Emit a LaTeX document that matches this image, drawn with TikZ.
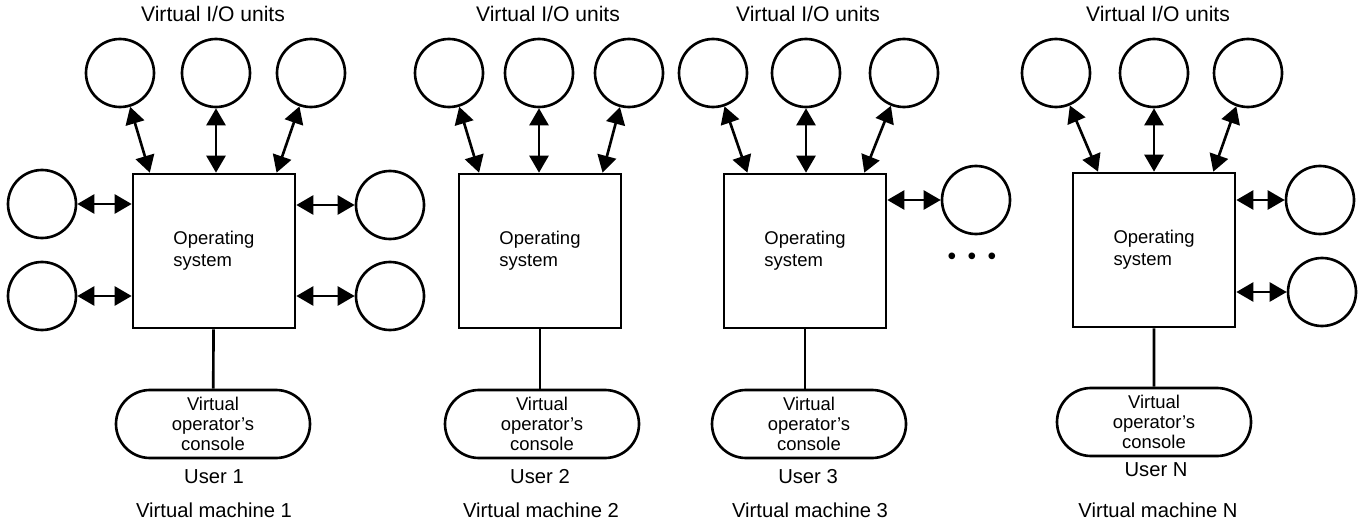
\documentclass[tikz,border=0pt]{standalone}
\usepackage{fontspec}
\setmainfont{Liberation Sans}
\usetikzlibrary{calc, positioning, shapes.misc, arrows.meta}

\begin{document}
\begin{tikzpicture}[line width=1.5pt, >={Triangle[length=0.34cm, width=0.38cm]},
    unit/.style={draw, circle, minimum size=1.36cm, inner sep=0pt},
    os/.style={draw, rectangle, minimum width=3.24cm, minimum height=3.08cm, align=left, font=\fontsize{10.5}{12.5}\selectfont},
    console/.style={draw, rounded rectangle, minimum width=3.88cm, minimum height=1.36cm, inner sep=0pt, align=center, font=\fontsize{10.5}{11.2}\selectfont},
    title/.style={font=\fontsize{12}{14}\selectfont},
    label/.style={font=\fontsize{11.5}{13}\selectfont}]
        \useasboundingbox (0,0) rectangle (27.2,-10.54);

        % Virtual machine 1
        \node[title] (m1title) at (4.26,-0.28) {Virtual I/O units};
        \node[unit] (m1a) at (2.40,-1.46) {};
        \node[unit] (m1b) at (4.32,-1.46) {};
        \node[unit] (m1c) at (6.22,-1.46) {};
        \node[os] (m1box) at (4.28,-5.02) {Operating\\system};
        \node[unit] (m1l1) at (0.84,-4.08) {};
        \node[unit] (m1l2) at (0.84,-5.92) {};
        \node[unit] (m1r1) at (7.80,-4.10) {};
        \node[unit] (m1r2) at (7.80,-5.92) {};
        \node[console] (m1con) at (4.26,-8.48) {Virtual\\operator's\\console};
        \node[label] (m1user) at (4.28,-9.54) {User 1};
        \node[label] (m1vm) at (4.28,-10.2) {Virtual machine 1};

        \draw[<->] (m1a) -- ($(m1box.north west)!0.11!(m1box.north east)$);
        \draw[<->] (m1b) -- (m1b |- m1box.north);
        \draw[<->] (m1c) -- ($(m1box.north west)!0.88!(m1box.north east)$);
        \draw[<->] (m1l1) -- (m1l1 -| m1box.west);
        \draw[<->] (m1l2) -- (m1l2 -| m1box.west);
        \draw[<->] (m1r1) -- (m1r1 -| m1box.east);
        \draw[<->] (m1r2) -- (m1r2 -| m1box.east);
        \draw (m1box) -- (m1con);

        % Virtual machine 2
        \node[title] (m2title) at (10.96,-0.28) {Virtual I/O units};
        \node[unit] (m2a) at (8.98,-1.46) {};
        \node[unit] (m2b) at (10.78,-1.46) {};
        \node[unit] (m2c) at (12.58,-1.46) {};
        \node[os] (m2box) at (10.80,-5.02) {Operating\\system};
        \node[console] (m2con) at (10.84,-8.48) {Virtual\\operator's\\console};
        \node[label] (m2user) at (10.80,-9.54) {User 2};
        \node[label] (m2vm) at (10.82,-10.2) {Virtual machine 2};

        \draw[<->] (m2a) -- ($(m2box.north west)!0.13!(m2box.north east)$);
        \draw[<->] (m2b) -- (m2b |- m2box.north);
        \draw[<->] (m2c) -- ($(m2box.north west)!0.88!(m2box.north east)$);
        \draw (m2box) -- (m2box |- m2con.north);

        % Virtual machine 3
        \node[title] (m3title) at (16.16,-0.28) {Virtual I/O units};
        \node[unit] (m3a) at (14.26,-1.46) {};
        \node[unit] (m3b) at (16.12,-1.46) {};
        \node[unit] (m3c) at (18.08,-1.46) {};
        \node[os] (m3box) at (16.10,-5.02) {Operating\\system};
        \node[unit] (m3r1) at (19.52,-4.00) {};
        \node[console] (m3con) at (16.18,-8.48) {Virtual\\operator's\\console};
        \node[label] (m3user) at (16.16,-9.54) {User 3};
        \node[label] (m3vm) at (16.20,-10.2) {Virtual machine 3};
        \node[font=\fontsize{14}{14}\selectfont] (dots) at (19.44,-5.18) {\textbullet\hspace{6.5pt}\textbullet\hspace{6.5pt}\textbullet};

        \draw[<->] (m3a) -- ($(m3box.north west)!0.15!(m3box.north east)$);
        \draw[<->] (m3b) -- (m3b |- m3box.north);
        \draw[<->] (m3c) -- ($(m3box.north west)!0.86!(m3box.north east)$);
        \draw[<->] (m3r1) -- (m3r1 -| m3box.east);
        \draw (m3box) -- (m3box |- m3con.north);

        % Virtual machine N
        \node[title] (mntitle) at (23.16,-0.28) {Virtual I/O units};
        \node[unit] (mna) at (21.12,-1.46) {};
        \node[unit] (mnb) at (23.08,-1.46) {};
        \node[unit] (mnc) at (24.96,-1.46) {};
        \node[os] (mnbox) at (23.08,-5.00) {Operating\\system};
        \node[unit] (mnr1) at (26.40,-4.00) {};
        \node[unit] (mnr2) at (26.44,-5.84) {};
        \node[console] (mncon) at (23.08,-8.44) {Virtual\\operator's\\console};
        \node[label] (mnuser) at (23.12,-9.40) {User N};
        \node[label] (mnvm) at (23.16,-10.2) {Virtual machine N};

        \draw[<->] (mna) -- ($(mnbox.north west)!0.16!(mnbox.north east)$);
        \draw[<->] (mnb) -- (mnb |- mnbox.north);
        \draw[<->] (mnc) -- ($(mnbox.north west)!0.86!(mnbox.north east)$);
        \draw[<->] (mnr1) -- (mnr1 -| mnbox.east);
        \draw[<->] (mnr2) -- (mnr2 -| mnbox.east);
        \draw (mnbox) -- (mncon);
    \end{tikzpicture}
\end{document}
